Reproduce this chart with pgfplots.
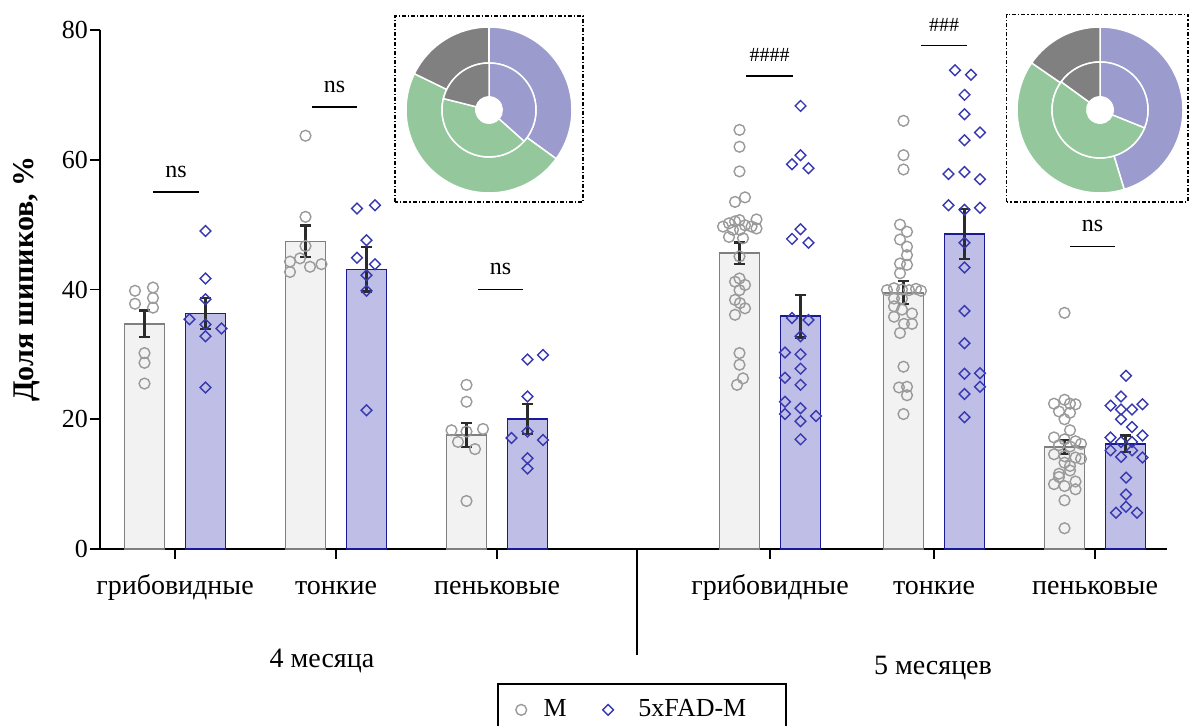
\documentclass[border=0pt]{standalone}
\usepackage{fontspec}
\setmainfont{Liberation Serif}
\usepackage{pgfplots}
\pgfplotsset{compat=1.18}

\definecolor{mfill}{HTML}{F2F2F2}
\definecolor{medge}{HTML}{7F7F7F}
\definecolor{mpt}{HTML}{9A9A9A}
\definecolor{tgfill}{HTML}{BEBEE6}
\definecolor{tgedge}{HTML}{1A1A96}
\definecolor{tgpt}{HTML}{3838B0}
\definecolor{dpurple}{HTML}{9B9BCD}
\definecolor{dgreen}{HTML}{94C89C}
\definecolor{dgray}{HTML}{808080}
\definecolor{sem}{HTML}{2B2B2B}

\newcommand{\lbl}{\fontsize{13}{15}\selectfont}
\newcommand{\cat}{\fontsize{14}{16}\selectfont}

% one ring of a donut: #1 inner radius, #2 outer radius, #3 list value/colour
\newcommand{\ring}[3]{%
  \gdef\tot{0}%
  \foreach \v/\c in {#3} {\pgfmathsetmacro{\t}{\tot+\v}\global\let\tot\t}%
  \gdef\acur{90}%
  \foreach \v/\c in {#3} {%
    \pgfmathsetmacro{\anext}{\acur-(\v/\tot)*360}%
    \fill[\c, draw=white, line width=0.75pt]
      (\acur:#2) arc[start angle=\acur, end angle=\anext, radius=#2]
      -- (\anext:#1) arc[start angle=\anext, end angle=\acur, radius=#1] -- cycle;
    \global\let\acur\anext
  }%
}

\begin{document}
\begin{tikzpicture}
\useasboundingbox (-50pt,-88.5pt) rectangle (546pt,274.5pt);
\begin{axis}[
  scale only axis, width=533.5pt, height=259.5pt,
  xmin=100, xmax=1167, ymin=0, ymax=80,
  axis x line*=bottom, axis y line*=left,
  axis line style={black, line width=0.9pt, -},
  xtick={175,336,497,770,934,1095},
  xticklabels={грибовидные,тонкие,пеньковые,грибовидные,тонкие,пеньковые},
  ytick={0,20,40,60,80},
  minor tick num=0,
  tick align=outside, major tick length=5pt,
  tick style={black, line width=0.9pt},
  tick label style={font=\lbl},
  /pgf/number format/assume math mode=true,
  xticklabel style={font=\cat, text height=9.5pt, text depth=3pt, yshift=-4.5pt},
  yticklabel style={xshift=2.5pt},
  ylabel={Доля шипиков, \%},
  ylabel style={font=\bfseries\fontsize{15}{17}\selectfont,
    at={(axis description cs:-0.0684,0.52)}, anchor=center},
  clip=false,
  legend columns=2,
  legend style={at={(axis description cs:0.372,-0.258)}, anchor=north west,
    draw=black, line width=0.9pt, font=\lbl,
    inner xsep=9pt, inner ysep=6pt,
    /tikz/every odd column/.append style={column sep=6.5pt},
    /tikz/every even column/.append style={column sep=16pt}},
  legend image code/.code={\draw[#1] plot coordinates {(0pt,0pt)};},
]

% ---- bars: group means ----
\addplot[ybar, bar width=40, bar shift=0pt, fill=mfill, draw=medge,
  line width=0.8pt, forget plot] coordinates {
  (144.5,34.7) (305.5,47.4) (466.5,17.6)
  (739.5,45.6) (903.5,39.5) (1064.5,15.7)};
\addplot[ybar, bar width=40, bar shift=0pt, fill=tgfill, draw=tgedge,
  line width=0.8pt, forget plot] coordinates {
  (205.5,36.3) (366.5,43.1) (527.5,20.0)
  (800.5,35.9) (964.5,48.6) (1125.5,16.2)};

% ---- individual values, M ----
\addplot[only marks, mark=o, mark size=2.7pt, color=mpt,
  mark options={line width=0.7pt}] coordinates {
  % 4 months, mushroom
  (135,39.8) (153,40.3) (153,38.7) (135,37.8) (153,37.2)
  (144.5,30.2) (144.5,28.7) (144.5,25.5)
  % 4 months, thin
  (305.5,63.7) (305.5,51.2) (305.5,46.7) (290,44.3) (300,44.8)
  (310,43.5) (321.5,43.9) (290,42.7)
  % 4 months, stubby
  (466.5,25.3) (466.5,22.7) (451.5,18.3) (466.5,18.1) (483,18.5)
  (458,16.5) (475,15.4) (466.5,7.4)
  % 5 months, mushroom
  (739.5,64.6) (739.5,62.0) (739.5,58.2) (735,53.5) (745,54.2)
  (723,49.7) (729,50.2) (735,50.5) (739.5,50.7) (745,49.9) (751.5,49.7)
  (756.5,50.8) (756.5,49.4) (733,49.2) (740,49.2) (729,48.1) (743,47.9)
  (739.5,45.1) (735,41.2) (739.5,41.7) (745,40.7) (739.5,39.9)
  (735,38.4) (740,37.9) (745,37.1) (735,36.1)
  (739.5,30.2) (739.5,28.4) (743,26.3) (737,25.3)
  % 5 months, thin
  (903.5,66.0) (903.5,60.7) (903.5,58.5) (900,50.0) (907,48.9)
  (900,47.7) (907,46.6) (907,45.3) (900,44.0) (907,43.8) (900,42.5)
  (887,39.9) (894,40.2) (902,40.0) (909,39.9) (916,40.1) (921,39.8)
  (894,38.6) (902,38.6) (894,37.4) (902,36.9) (912,36.3)
  (894,35.8) (904,34.7) (912,34.7) (900,33.3)
  (903.5,28.1) (899,24.9) (907,25.0) (907,23.7) (903.5,20.8)
  % 5 months, stubby
  (1064.5,36.4) (1054,22.4) (1064.5,23.0) (1070,22.4) (1075.5,22.3)
  (1059,21.2) (1070,21.0) (1064.5,20.0) (1070,18.3)
  (1054,17.2) (1064.5,16.9) (1075.5,16.6) (1081,16.2) (1059,16.0) (1070,15.8)
  (1054,14.6) (1064.5,14.3) (1075.5,14.1) (1081,13.9)
  (1064.5,13.3) (1070,12.1) (1059,11.1) (1075.5,10.4) (1054,10.0) (1064.5,9.7)
  (1070,12.8) (1059,11.6) (1075.5,9.2) (1064.5,7.5) (1064.5,3.2)
};
\addlegendentry{M}

% ---- individual values, 5xFAD-M ----
\addplot[only marks, mark=square, mark size=1.9pt, color=tgpt,
  mark options={rotate=45, line width=0.7pt}] coordinates {
  % 4 months, mushroom
  (205.5,49.0) (205.5,41.7) (205.5,38.5) (189.5,35.4) (205.5,34.6)
  (221.5,34.0) (205.5,32.8) (205.5,24.9)
  % 4 months, thin
  (357,52.5) (375,53.0) (366.5,47.6) (357,44.9) (375,43.9)
  (366.5,42.2) (366.5,39.8) (366.5,21.4)
  % 4 months, stubby
  (527.5,29.2) (543,29.9) (527.5,23.5) (527.5,18.1) (511.5,17.1)
  (543,16.8) (527.5,14.0) (527.5,12.4)
  % 5 months, mushroom
  (800.5,68.3) (800.5,60.7) (792,59.3) (808.5,58.7) (800.5,49.3)
  (792,47.8) (808.5,47.2) (792,35.6) (808.5,35.3) (800.5,32.8)
  (785,30.3) (800.5,30.0) (800.5,27.8) (785,26.4) (800.5,25.3)
  (785,22.7) (785,20.8) (800.5,21.7) (800.5,19.7) (816,20.5) (800.5,16.9)
  % 5 months, thin
  (955,73.8) (971,73.1) (964.5,70.0) (964.5,67.0) (980,64.2)
  (964.5,63.0) (948.5,57.8) (964.5,58.1) (980,57.0) (948.5,53.0)
  (964.5,52.3) (980,52.6) (964.5,47.2) (964.5,43.4) (964.5,36.7)
  (964.5,31.7) (964.5,27.0) (980,27.1) (980,25.0) (964.5,23.9) (964.5,20.3)
  % 5 months, stubby
  (1126,26.7) (1121,23.5) (1110.5,22.1) (1142.5,22.3) (1121,21.5)
  (1132,21.5) (1121,20.0) (1132,18.8) (1110.5,17.2) (1142.5,17.5)
  (1121,16.5) (1132,16.5) (1110.5,15.2) (1121,14.2) (1132,15.2)
  (1142.5,14.1) (1126,11.0) (1126,8.4) (1116,5.6) (1126,6.5) (1137,5.6)
};
\addlegendentry{\hspace{4pt}5xFAD-M\kern9pt}

% ---- SEM ----
\addplot[draw=none, mark=none, forget plot,
  error bars/.cd, y dir=both, y explicit, error mark=-,
  error bar style={draw=sem, solid, line width=1.1pt},
  error mark options={draw=sem, solid, rotate=90, line width=1.1pt, mark size=2.7pt}]
  coordinates {
  (144.5,34.7) +- (0,2.05) (305.5,47.4) +- (0,2.45) (466.5,17.6) +- (0,1.85)
  (739.5,45.6) +- (0,1.65) (903.5,39.5) +- (0,1.75) (1064.5,15.7) +- (0,1.1)
  (205.5,36.3) +- (0,2.35) (366.5,43.1) +- (0,3.4) (527.5,20.0) +- (0,2.3)
  (800.5,35.9) +- (0,3.3) (964.5,48.6) +- (0,3.85) (1125.5,16.2) +- (0,1.3)};

% ---- comparisons ----
\addplot[black, line width=0.8pt, forget plot] coordinates {(153,55.0) (199,55.0)};
\addplot[black, line width=0.8pt, forget plot] coordinates {(312,68.1) (357,68.1)};
\addplot[black, line width=0.8pt, forget plot] coordinates {(478,40.0) (523,40.0)};
\addplot[black, line width=0.8pt, forget plot] coordinates {(746,72.9) (793,72.9)};
\addplot[black, line width=0.8pt, forget plot] coordinates {(921,77.6) (967,77.6)};
\addplot[black, line width=0.8pt, forget plot] coordinates {(1070,46.6) (1115,46.6)};
\node[anchor=base, font=\fontsize{12}{14}\selectfont] at (axis cs:176,57.3) {ns};
\node[anchor=base, font=\fontsize{12}{14}\selectfont] at (axis cs:334.5,70.4) {ns};
\node[anchor=base, font=\fontsize{12}{14}\selectfont] at (axis cs:500.5,42.3) {ns};
\node[anchor=base, font=\fontsize{10}{12}\selectfont] at (axis cs:769.5,75.1) {\#\#\#\#};
\node[anchor=base, font=\fontsize{10}{12}\selectfont] at (axis cs:944,79.8) {\#\#\#};
\node[anchor=base, font=\fontsize{12}{14}\selectfont] at (axis cs:1092.5,48.9) {ns};

% ---- age groups ----
\draw[black, line width=0.8pt] (axis cs:637,0) -- (axis cs:637,-16.3);
\node[font=\cat] at (axis cs:322,-17.3) {4 месяца};
\node[font=\cat] at (axis cs:933,-18.4) {5 месяцев};

% ---- inset frames ----
\draw[black, line width=0.8pt, dash pattern=on 2pt off 1pt on 0.6pt off 1pt]
  (axis cs:395,53.5) rectangle (axis cs:583,82.2);
\draw[black, line width=0.8pt, dash pattern=on 2pt off 1pt on 0.6pt off 1pt]
  (axis cs:1006.5,53.5) rectangle (axis cs:1188,82.4);
\coordinate (d4) at (axis cs:489,67.67);
\coordinate (d5) at (axis cs:1100,67.67);
\end{axis}

% ---- spine-type shares: outer ring M, inner ring 5xFAD-M ----
\begin{scope}[shift={(d4)}]
  \ring{23.5pt}{41.5pt}{35.0/dpurple, 47.2/dgreen, 17.8/dgray}
  \ring{6.6pt}{23.5pt}{36.6/dpurple, 42.3/dgreen, 21.1/dgray}
  \fill[white] (0,0) circle[radius=6.6pt];
\end{scope}
\begin{scope}[shift={(d5)}]
  \ring{24pt}{41.5pt}{45.3/dpurple, 39.3/dgreen, 15.4/dgray}
  \ring{6.6pt}{24pt}{31.1/dpurple, 53.9/dgreen, 15.0/dgray}
  \fill[white] (0,0) circle[radius=6.6pt];
\end{scope}
\end{tikzpicture}
\end{document}
